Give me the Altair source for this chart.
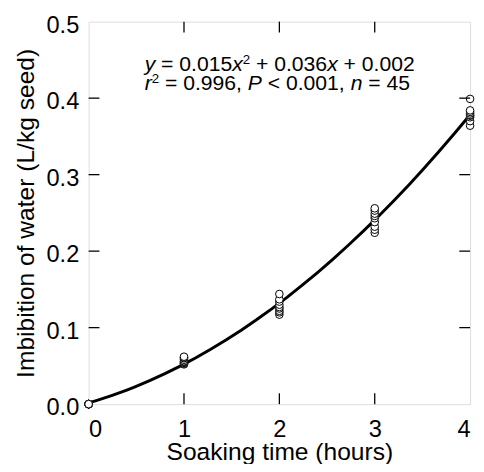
import altair as alt
import pandas as pd

# ---- data ----
hours = [0, 1, 2, 3, 4]
imbibition = [
    [0.0, 0.0, 0.0, 0.0, 0.0, 0.0, 0.0, 0.0, 0.0],
    [0.052, 0.053, 0.054, 0.055, 0.056, 0.058, 0.060, 0.061, 0.062],
    [0.117, 0.120, 0.122, 0.125, 0.127, 0.130, 0.134, 0.137, 0.144],
    [0.224, 0.228, 0.232, 0.238, 0.243, 0.246, 0.249, 0.253, 0.256],
    [0.364, 0.370, 0.375, 0.377, 0.378, 0.380, 0.382, 0.384, 0.399],
]
x_ticks = [1, 2, 3]
y_ticks = [0.1, 0.2, 0.3, 0.4]

line1 = [("y", "italic", False), (" = 0.015", "normal", False), ("x", "italic", False),
         ("2", "normal", True), (" + 0.036", "normal", False), ("x", "italic", False),
         (" + 0.002", "normal", False)]
line2 = [("r", "italic", False), ("2", "normal", True), (" = 0.996,", "normal", False),
         (" P", "italic", False), (" < 0.001,", "normal", False), (" n", "italic", False),
         (" = 45", "normal", False)]

rows = []
for h, vals in zip(hours, imbibition):
    for v in vals:
        rows.append({"t": h, "w": v})
df = pd.DataFrame(rows)

W, H = 388, 389
FONT = "Liberation Sans"
TICK = 11

# Arial/Liberation advance widths (per 1000 em)
WID = {**{d: 556 for d in "0123456789"}, " ": 278, ".": 278, ",": 278, "=": 584, "+": 584,
       "<": 584, "x": 500, "y": 500, "r": 333, "P": 667, "n": 556}

def width(s, size):
    return sum(WID.get(c, 556) for c in s) / 1000 * size

def segs(parts, x0, y0, fs, sfs, sup_dy):
    out = []
    x = x0
    for txt, style, sup in parts:
        size = sfs if sup else fs
        lead = len(txt) - len(txt.lstrip(" "))
        core = txt.strip(" ")
        out.append({"txt": core, "style": style, "x": x + width(" " * lead, size),
                    "y": y0 - (sup_dy if sup else 0), "size": size})
        x += width(txt, size)
    return out

FS = 21.5
SFS = 13.5
ann = pd.DataFrame(segs(line1, 57, 50, FS, SFS, 7) + segs(line2, 57, 69, FS, SFS, 7))

xs = alt.Scale(domain=[0, 4], nice=False)
ys = alt.Scale(domain=[0, 0.5], nice=False)

base = alt.Chart(df)

curve = base.transform_regression("t", "w", method="poly", order=2, extent=[0, 4]).mark_line(
    color="black", strokeWidth=3, clip=False
).encode(
    x=alt.X("t:Q", scale=xs, axis=alt.Axis(values=[0, 1, 2, 3, 4], format="d",
                                           title="Soaking time (hours)",
                                           ticks=False, domain=False, grid=False, labelPadding=14,
                                           labelFontSize=24, titleFontSize=25,
                                           titleBaseline="alphabetic", titleY=56,
                                           labelFont=FONT, titleFont=FONT, labelColor="black",
                                           titleColor="black", titleFontWeight="normal")),
    y=alt.Y("w:Q", scale=ys, axis=alt.Axis(values=[0, 0.1, 0.2, 0.3, 0.4, 0.5], format=".1f",
                                           title="Imbibition of water (L/kg seed)", ticks=False,
                                           domain=False, grid=False, labelPadding=10, labelOffset=4,
                                           labelFontSize=24, titleFontSize=25, titlePadding=8,
                                           labelFont=FONT, titleFont=FONT, labelColor="black",
                                           titleColor="black", titleFontWeight="normal")),
)

pts = base.mark_point(shape="circle", filled=True, fill="white", stroke="black", strokeWidth=1,
                      size=60, opacity=1, clip=False).encode(x=alt.X("t:Q", scale=xs), y=alt.Y("w:Q", scale=ys))

ytk = pd.DataFrame({"v": y_ticks})
xtk = pd.DataFrame({"v": x_ticks})
left = alt.Chart(ytk).mark_rule(color="black", strokeWidth=1.3).encode(
    y=alt.Y("v:Q", scale=ys), x=alt.value(0), x2=alt.value(TICK))
right = alt.Chart(ytk).mark_rule(color="black", strokeWidth=1.3).encode(
    y=alt.Y("v:Q", scale=ys), x=alt.value(W - TICK), x2=alt.value(W))
top = alt.Chart(xtk).mark_rule(color="black", strokeWidth=1.3).encode(
    x=alt.X("v:Q", scale=xs), y=alt.value(0), y2=alt.value(TICK))
bottom = alt.Chart(xtk).mark_rule(color="black", strokeWidth=1.3).encode(
    x=alt.X("v:Q", scale=xs), y=alt.value(H - TICK), y2=alt.value(H))

texts = []
for style in ["normal", "italic"]:
    for size in sorted(ann["size"].unique()):
        texts.append(alt.Chart(ann).transform_filter(
            (alt.datum.style == style) & (alt.datum.size == float(size))
        ).mark_text(align="left", baseline="alphabetic", font=FONT, fontStyle=style,
                    fontSize=float(size), color="black"
        ).encode(x=alt.X("x:Q", scale=None), y=alt.Y("y:Q", scale=None), text="txt:N"))

chart = alt.layer(curve, pts, left, right, top, bottom, *texts).properties(
    width=W, height=H,
    autosize=alt.AutoSizeParams(type="none"),
    padding={"left": 82, "top": 10, "right": 6, "bottom": 57},
).configure_view(stroke="black", strokeWidth=1.5).configure(background="white")

chart.save("out.html", embed_options={"renderer": "svg", "actions": False})
